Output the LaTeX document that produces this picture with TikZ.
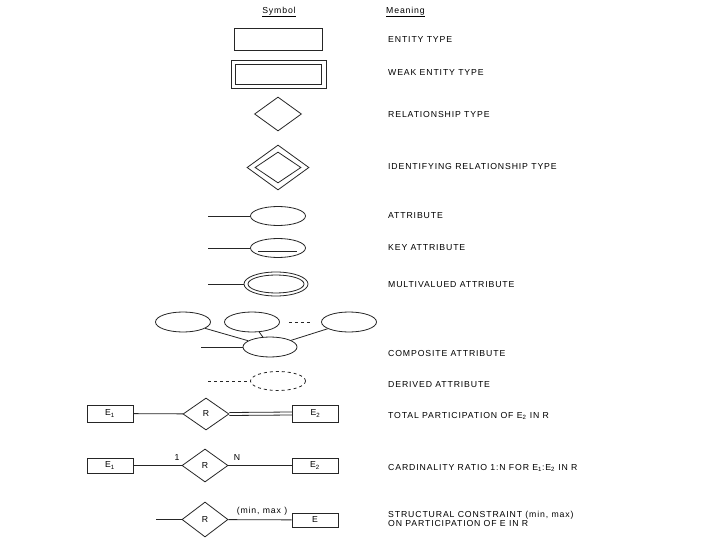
\documentclass[tikz,border=0pt]{standalone}
\usepackage{fontspec}
\usepackage{tikz}
\usetikzlibrary{shapes.geometric}
\newfontfamily\lblfont[LetterSpace=10]{Liberation Sans}
\newcommand{\lbl}{\lblfont\fontsize{8.7}{8.5}\selectfont}

\begin{document}
\begin{tikzpicture}[
        x=1pt, y=-1pt,
        shapeline/.style={draw=black!85, line width=0.8pt},
        entity/.style={rectangle, shapeline, minimum width=46pt, minimum height=16pt, inner sep=0pt, font=\lbl},
        bigentity/.style={rectangle, shapeline, minimum width=88pt, minimum height=22pt, inner sep=0pt},
        rel/.style={diamond, shapeline, minimum width=46pt, minimum height=33pt, inner sep=0pt, font=\lbl},
        attr/.style={ellipse, shapeline, minimum width=55pt, minimum height=19pt, inner sep=0pt},
        meaning/.style={anchor=west, font=\lbl, align=left, inner sep=0pt},
        header/.style={font=\lbl, inner sep=0pt},
        card/.style={font=\lbl, inner sep=0pt},
        link/.style={draw=black!85, line width=0.8pt}
    ]
        \useasboundingbox[fill=white] (0,0) rectangle (720,540);

        \node[header] (symhead) at (279,12) {\underline{Symbol}};
        \node[header, anchor=west] (meanhead) at (386,12) {\underline{Meaning}};

        \node[bigentity] (ent) at (278,39) {};
        \node[bigentity, minimum width=95pt, minimum height=28pt] (weak) at (278.5,74) {};
        \node[bigentity, minimum width=86pt, minimum height=20pt] (weakin) at (278.5,74) {};
        \node[rel, minimum width=47pt, minimum height=34pt] (relt) at (278,114) {};
        \node[rel, minimum width=62pt, minimum height=45pt] (idrel) at (278,167.5) {};
        \node[rel, minimum width=46pt, minimum height=31pt] (idrelin) at (278,167.5) {};

        \node[attr] (att) at (278,216) {};
        \coordinate (attend) at (208,216);
        \draw[link] (attend) -- (att);

        \node[attr] (keyatt) at (278,248) {};
        \coordinate (keyend) at (208,248);
        \draw[link] (keyend) -- (keyatt);
        \draw[link] ([xshift=-20pt,yshift=-3pt]keyatt.center) -- ([xshift=19pt,yshift=-3pt]keyatt.center);

        \node[attr, minimum width=64pt, minimum height=24pt] (multi) at (276,284) {};
        \node[attr, minimum width=56pt, minimum height=18pt] (multiin) at (276,284) {};
        \coordinate (multiend) at (208,284);
        \draw[link] (multiend) -- (multi);

        \node[attr, minimum height=20pt] (compl) at (183,322) {};
        \node[attr, minimum height=20pt] (compm) at (252,322) {};
        \node[attr, minimum height=20pt] (compr) at (349,322) {};
        \node[attr, minimum width=54pt, minimum height=20pt] (comp) at (270,347) {};
        \coordinate (compend) at (201,347);
        \draw[link] (compl) -- (comp);
        \draw[link] (compm) -- (comp);
        \draw[link] (compr) -- (comp);
        \draw[link, dashed, shorten <=9pt, shorten >=9pt] (compm) -- (compr);
        \draw[link] (compend) -- (comp);

        \node[attr, dashed] (derived) at (278,381) {};
        \coordinate (derivedend) at (208,381);
        \draw[link, dashed] (derivedend) -- (derived);

        \node[entity, minimum height=17pt] (eonea) at (110,413.5) {E\textsubscript{1}};
        \node[rel, minimum height=32pt] (rone) at (206,414) {R};
        \node[entity, minimum height=17pt] (etwoa) at (315.5,413.5) {E\textsubscript{2}};
        \draw[link] (eonea) -- (rone);
        \draw[link] ([yshift=1.5pt]rone.east) -- ([yshift=1.5pt]etwoa.west);
        \draw[link] ([yshift=-1.5pt]rone.east) -- ([yshift=-1.5pt]etwoa.west);

        \node[entity, minimum height=15pt] (eoneb) at (110,465.5) {E\textsubscript{1}};
        \node[rel] (rtwo) at (205,465.5) {R};
        \node[entity, minimum height=15pt] (etwob) at (315,465.5) {E\textsubscript{2}};
        \draw[link] (eoneb) -- (rtwo);
        \draw[link] (rtwo) -- (etwob);
        \node[card] (cardone) at (177,458) {1};
        \node[card] (cardn) at (237,458) {N};

        \node[rel, minimum height=35pt] (rthree) at (205,519.5) {R};
        \node[entity, minimum height=14pt] (ethree) at (315,520) {E};
        \coordinate (rthreeend) at (156,519.5);
        \draw[link] (rthreeend) -- (rthree);
        \draw[link] (rthree) -- (ethree);
        \node[card] (minmax) at (262,511) {(min, max )};

        \node[meaning] at (388,40) {ENTITY TYPE};
        \node[meaning] at (388,73) {WEAK ENTITY TYPE};
        \node[meaning] at (388,114.5) {RELATIONSHIP TYPE};
        \node[meaning] at (388,167) {IDENTIFYING RELATIONSHIP TYPE};
        \node[meaning] at (388,216) {ATTRIBUTE};
        \node[meaning] at (388,248) {KEY ATTRIBUTE};
        \node[meaning] at (388,284.5) {MULTIVALUED ATTRIBUTE};
        \node[meaning] at (388,354) {COMPOSITE ATTRIBUTE};
        \node[meaning] at (388,384.5) {DERIVED ATTRIBUTE};
        \node[meaning] at (388,416) {TOTAL PARTICIPATION OF E\textsubscript{2} IN R};
        \node[meaning] at (388,468) {CARDINALITY RATIO 1:N FOR E\textsubscript{1}:E\textsubscript{2} IN R};
        \node[meaning] at (388,519) {STRUCTURAL CONSTRAINT (min, max)\\ON PARTICIPATION OF E IN R};
    \end{tikzpicture}
\end{document}
